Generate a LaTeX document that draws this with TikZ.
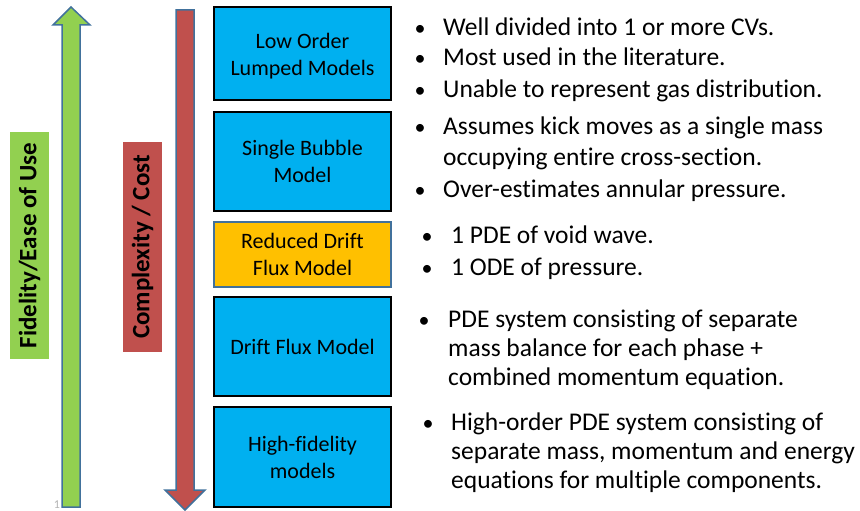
\documentclass[tikz,border=0pt]{standalone}
\usepackage{fontspec}
\setmainfont{Carlito}[Ligatures=NoCommon]
\definecolor{cyanbox}{HTML}{00B0F0}
\definecolor{orangebox}{HTML}{FFC000}
\definecolor{greenbar}{HTML}{92D050}
\definecolor{redbar}{HTML}{C0504D}
\definecolor{outline}{HTML}{41719C}
\begin{document}
\begin{tikzpicture}[x=1pt,y=-1pt,
  modelbox/.style={draw=black,line width=2pt,fill=cyanbox,minimum width=177pt,inner sep=0pt,align=center,font=\fontsize{22}{27}\selectfont},
  orangemodel/.style={modelbox,draw=outline,line width=1.6pt,fill=orangebox},
  boxtext/.style={inner sep=0pt,align=center,font=\fontsize{22}{27}\selectfont},
  bul/.style={anchor=base,inner sep=0pt,font=\fontsize{22}{30}\selectfont},
  txt/.style={anchor=base west,inner sep=0pt,font=\fontsize{25.5}{30}\selectfont},
  bararrow/.style={draw=outline,line width=1.5pt,line join=miter},
  axislabel/.style={inner sep=0pt,font=\bfseries\fontsize{25}{30}\selectfont,rotate=90}
]
\useasboundingbox (0,0) rectangle (860,511);
% arrows
\draw[bararrow,fill=greenbar] (71,7) -- (90,25) -- (80,25) -- (80,507) -- (62,507) -- (62,25) -- (53,25) -- cycle;
\draw[bararrow,fill=redbar] (176,10) -- (194,10) -- (194,490) -- (205,490) -- (185,510) -- (165,490) -- (176,490) -- cycle;
% axis labels
\node[fill=greenbar,minimum width=39pt,minimum height=227pt,inner sep=0pt] (gl) at (29.5,245.5) {};
\node[axislabel] (glt) at (gl.center) {Fidelity/Ease of Use};
\node[fill=redbar,minimum width=39pt,minimum height=210pt,inner sep=0pt] (rl) at (142.5,247) {};
\node[axislabel] (rlt) at (rl.center) {Complexity / Cost};
\node[anchor=base,inner sep=0pt,text=gray!60,font=\fontsize{12}{14}\selectfont] (pg) at (57,508) {1};
% model boxes
\node[modelbox,minimum height=93pt] (b1) at (302.5,53.5) {};
\node[boxtext] (b1t) at (302.5,56) {Low Order\\Lumped Models};
\node[modelbox,minimum height=99pt] (b2) at (302.5,161.5) {Single Bubble\\Model};
\node[orangemodel,minimum height=65pt] (b3) at (302.5,254.5) {Reduced Drift\\Flux Model};
\node[modelbox,minimum height=99pt] (b4) at (302.5,346.5) {Drift Flux Model};
\node[modelbox,minimum height=100pt] (b5) at (302.5,457) {High-fidelity\\models};
% bullets group 1
\node[bul] (p1a) at (420,36) {•};
\node[txt] (t1a) at (443,36) {Well divided into 1 or more CVs.};
\node[bul] (p1b) at (420,66) {•};
\node[txt] (t1b) at (443,66) {Most used in the literature.};
\node[bul] (p1c) at (420,97) {•};
\node[txt] (t1c) at (443,97) {Unable to represent gas distribution.};
% group 2
\node[bul] (p2a) at (420,135) {•};
\node[txt] (t2a) at (443,135) {Assumes kick moves as a single mass};
\node[txt] (t2b) at (443,165) {occupying entire cross-section.};
\node[bul] (p2c) at (420,197) {•};
\node[txt] (t2c) at (443,197) {Over-estimates annular pressure.};
% group 3
\node[bul] (p3a) at (427,243) {•};
\node[txt] (t3a) at (451,243) {1 PDE of void wave.};
\node[bul] (p3b) at (427,275) {•};
\node[txt] (t3b) at (451,275) {1 ODE of pressure.};
% group 4
\node[bul] (p4a) at (424,327) {•};
\node[txt] (t4a) at (448,327) {PDE system consisting of separate};
\node[txt] (t4b) at (448,356) {mass balance for each phase +};
\node[txt] (t4c) at (448,385) {combined momentum equation.};
% group 5
\node[bul] (p5a) at (428,430) {•};
\node[txt] (t5a) at (451,430) {High-order PDE system consisting of};
\node[txt] (t5b) at (451,459) {separate mass, momentum and energy};
\node[txt] (t5c) at (451,488) {equations for multiple components.};
\end{tikzpicture}
\end{document}
